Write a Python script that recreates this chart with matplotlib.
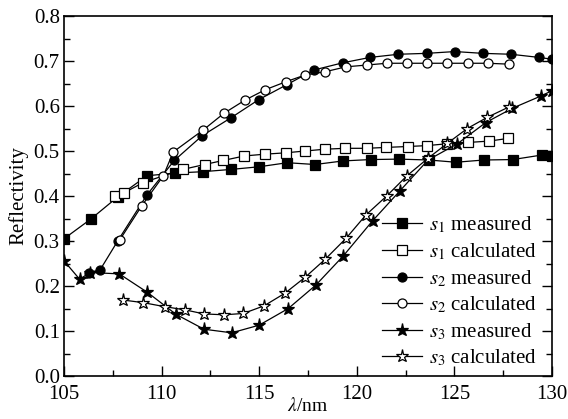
import matplotlib
matplotlib.use('Agg')
import matplotlib.pyplot as plt
from matplotlib.ticker import MultipleLocator, FormatStrFormatter

# s1 measured (filled squares)
s1_meas_x = [105.0, 106.38, 107.75, 109.25, 110.7, 112.1, 113.54, 115.0, 116.44, 117.86,
             119.31, 120.71, 122.16, 123.7, 125.08, 126.5, 127.99, 129.47, 130.0]
s1_meas_y = [0.305, 0.349, 0.398, 0.445, 0.451, 0.454, 0.459, 0.465, 0.474, 0.470,
             0.478, 0.481, 0.482, 0.480, 0.475, 0.480, 0.481, 0.491, 0.490]

# s1 calculated (open squares)
s1_calc_x = [107.6, 108.07, 109.06, 111.08, 112.2, 113.16, 114.24, 115.3, 116.37, 117.35,
             118.37, 119.4, 120.5, 121.5, 122.6, 123.6, 124.6, 125.7, 126.77, 127.76]
s1_calc_y = [0.400, 0.407, 0.430, 0.459, 0.470, 0.479, 0.489, 0.493, 0.496, 0.500,
             0.504, 0.506, 0.506, 0.508, 0.510, 0.512, 0.516, 0.519, 0.522, 0.528]

# s2 measured (filled circles)
s2_meas_x = [106.3, 106.85, 107.75, 109.24, 110.65, 112.08, 113.56, 114.97, 116.4, 117.8,
             119.28, 120.68, 122.13, 123.58, 125.03, 126.45, 127.9, 129.33, 130.0]
s2_meas_y = [0.230, 0.236, 0.300, 0.402, 0.479, 0.534, 0.574, 0.614, 0.647, 0.680,
             0.696, 0.708, 0.715, 0.717, 0.721, 0.717, 0.715, 0.708, 0.704]

# s2 calculated (open circles)
s2_calc_x = [107.85, 108.98, 110.09, 110.6, 112.14, 113.2, 114.27, 115.3, 116.37, 117.36,
             118.37, 119.43, 120.5, 121.53, 122.59, 123.6, 124.6, 125.7, 126.7, 127.8]
s2_calc_y = [0.302, 0.378, 0.445, 0.498, 0.547, 0.584, 0.613, 0.636, 0.654, 0.669,
             0.676, 0.687, 0.691, 0.695, 0.695, 0.695, 0.695, 0.695, 0.695, 0.693]

# s3 measured (filled stars)
s3_meas_x = [105.0, 105.8, 106.33, 107.83, 109.27, 110.74, 112.17, 113.59, 115.0, 116.49,
             117.9, 119.31, 120.81, 122.22, 123.65, 125.15, 126.6, 127.97, 129.42, 130.0]
s3_meas_y = [0.256, 0.215, 0.230, 0.227, 0.186, 0.137, 0.104, 0.096, 0.113, 0.150,
             0.202, 0.267, 0.345, 0.412, 0.480, 0.516, 0.563, 0.595, 0.622, 0.634]

# s3 calculated (open stars)
s3_calc_x = [108.0, 109.06, 110.17, 111.2, 112.17, 113.2, 114.19, 115.25, 116.32, 117.37,
             118.37, 119.45, 120.47, 121.53, 122.57, 123.65, 124.64, 125.66, 126.69, 127.8]
s3_calc_y = [0.169, 0.163, 0.154, 0.147, 0.138, 0.136, 0.139, 0.156, 0.184, 0.220,
             0.259, 0.306, 0.358, 0.400, 0.445, 0.484, 0.517, 0.550, 0.575, 0.598]

labels = [r'$s_1$ measured', r'$s_1$ calculated', r'$s_2$ measured',
          r'$s_2$ calculated', r'$s_3$ measured', r'$s_3$ calculated']

plt.rcParams['font.family'] = ['Liberation Serif', 'DejaVu Serif']
plt.rcParams['mathtext.fontset'] = 'stix'

fig = plt.figure(figsize=(5.68, 4.19), dpi=100)
ax = fig.add_axes([0.1127, 0.1026, 0.8591, 0.8592])

series = [
    (s1_meas_x, s1_meas_y, 's', 'black', 6.5),
    (s1_calc_x, s1_calc_y, 's', 'white', 6.5),
    (s2_meas_x, s2_meas_y, 'o', 'black', 6.5),
    (s2_calc_x, s2_calc_y, 'o', 'white', 6.5),
    (s3_meas_x, s3_meas_y, '*', 'black', 9.5),
    (s3_calc_x, s3_calc_y, '*', 'white', 9.5),
]
for (xs, ys, mk, fc, ms), lab in zip(series, labels):
    ax.plot(xs, ys, color='black', lw=0.9, marker=mk, markersize=ms,
            markerfacecolor=fc, markeredgecolor='black', markeredgewidth=0.9,
            label=lab)

ax.set_xlim(105, 130)
ax.set_ylim(0.0, 0.8)
ax.xaxis.set_major_locator(MultipleLocator(5))
ax.xaxis.set_minor_locator(MultipleLocator(2.5))
ax.yaxis.set_major_locator(MultipleLocator(0.1))
ax.yaxis.set_minor_locator(MultipleLocator(0.05))
ax.yaxis.set_major_formatter(FormatStrFormatter('%.1f'))
ax.tick_params(which='both', direction='in', right=True, top=False,
               labelsize=15, width=1.0)
ax.tick_params(which='major', length=7)
ax.tick_params(which='minor', length=4)
ax.tick_params(axis='x', pad=6.5)
ax.tick_params(axis='y', pad=3)
for sp in ax.spines.values():
    sp.set_linewidth(1.2)

ax.set_xlabel(r'$\lambda$/nm', fontsize=14, labelpad=-5)
ax.set_ylabel('Reflectivity', fontsize=15, labelpad=4)

ax.legend(loc='upper left', bbox_to_anchor=(0.652, 0.447), frameon=False,
          fontsize=15, borderpad=0, borderaxespad=0, handlelength=1.9,
          handletextpad=0.33, labelspacing=0.28)

fig.savefig('out.png', dpi=100)
